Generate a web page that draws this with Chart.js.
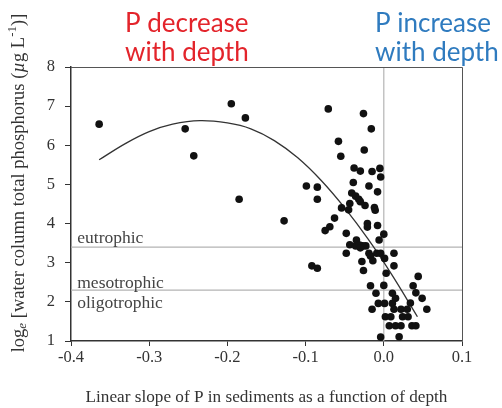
<!DOCTYPE html>
<html><head><meta charset="utf-8">
<script src="https://cdn.jsdelivr.net/npm/chart.js@4"></script>
<style>html,body{margin:0;padding:0;background:#fff}#wrap{width:502px;height:408px}</style>
</head><body><div id="wrap"><canvas id="c" width="502" height="408"></canvas></div>
<script>
// Observed lakes: linear slope of sediment P vs depth, and log_e water-column TP
const slopes = [-0.364,-0.254,-0.243,-0.195,-0.177,-0.185,-0.1275,-0.099,-0.085,-0.085,-0.092,-0.085,
 -0.071,-0.026,-0.016,-0.058,-0.025,-0.055,-0.038,-0.030,-0.015,-0.005,-0.004,-0.039,-0.019,-0.008,
 -0.041,-0.036,-0.032,-0.030,-0.024,-0.0435,-0.054,-0.045,-0.012,-0.011,-0.063,-0.069,-0.075,-0.021,
 -0.021,-0.008,-0.048,0.0,-0.006,-0.035,-0.0435,-0.036,-0.031,-0.027,-0.023,-0.030,-0.048,-0.019,
 -0.017,-0.009,-0.004,0.001,0.013,-0.014,-0.028,-0.026,0.003,0.013,
 -0.017,0.0,-0.010,0.011,0.015,-0.007,0.001,0.011,0.034,-0.015,0.013,0.022,0.030,0.055,
 0.002,0.009,0.024,0.031,0.007,0.015,0.022,0.036,0.041,-0.004,0.0196,0.044,0.0375,0.041,0.049];
const logTP = [6.54,6.42,5.73,7.06,6.70,4.62,4.07,4.96,4.93,4.62,2.92,2.86,
 6.93,6.81,6.42,6.10,5.88,5.72,5.42,5.34,5.33,5.41,5.19,5.05,4.96,4.81,
 4.78,4.70,4.62,4.56,4.46,4.51,4.40,4.35,4.41,4.34,4.14,3.92,3.82,4.00,
 3.91,3.95,3.75,3.73,3.58,3.58,3.46,3.43,3.45,3.43,3.43,3.38,3.24,3.24,
 3.17,3.24,3.24,3.11,3.24,3.05,3.03,2.80,2.73,2.92,
 2.41,2.42,2.22,2.22,2.09,1.96,1.96,1.96,1.97,1.81,1.81,1.81,1.81,1.81,
 1.62,1.62,1.62,1.62,1.39,1.39,1.39,1.39,1.39,1.10,1.11,2.65,2.41,2.23,2.09];
// Fitted curve
const curveX = [-0.364,-0.33,-0.30,-0.27,-0.235,-0.20,-0.17,-0.14,-0.11,-0.08,-0.05,-0.02,0.01,0.043];
const curveY = [5.63,6.05,6.35,6.54,6.63,6.57,6.42,6.12,5.68,5.10,4.40,3.60,2.70,1.62];
// Trophic thresholds
const trophicNames = ['eutrophic','mesotrophic','oligotrophic'];
const trophicLines = [3.40, 2.30];
const trophicLabelY = [3.63, 2.48, 1.95];
const xTicks = [-0.4,-0.3,-0.2,-0.1,0.0,0.1];
const yTicks = [1,2,3,4,5,6,7,8];

const pts = slopes.map((x,i)=>({x, y: logTP[i]}));
const curve = curveX.map((x,i)=>({x, y: curveY[i]}));
const gridCol = '#b4b4b4';
const SERIF = '"Liberation Serif"';

const overlay = {
  id:'overlay',
  afterDraw(chart){
    const {ctx, chartArea:a, scales:{x,y}} = chart;
    ctx.save();
    // frame top/right
    ctx.strokeStyle = '#555'; ctx.lineWidth = 1;
    ctx.beginPath();
    ctx.moveTo(a.left, a.top+0.5); ctx.lineTo(a.right+0.5, a.top+0.5); ctx.lineTo(a.right+0.5, a.bottom);
    ctx.stroke();
    // trophic labels
    ctx.fillStyle = '#444'; ctx.font = '17.5px ' + SERIF;
    ctx.textBaseline = 'middle'; ctx.textAlign = 'left';
    trophicNames.forEach((n,i)=>ctx.fillText(n, x.getPixelForValue(-0.392), y.getPixelForValue(trophicLabelY[i])));
    // x title
    ctx.fillStyle = '#333'; ctx.textAlign = 'center';
    ctx.font = '17.2px ' + SERIF;
    ctx.fillText('Linear slope of P in sediments as a function of depth', (a.left+a.right)/2, 397);
    // y title with sub/superscripts
    const segs = [
      {t:'log', f:'18.5px '+SERIF, dy:0},
      {t:'e', f:'italic 13px '+SERIF, dy:4},
      {t:' [water column total phosphorus (', f:'18.5px '+SERIF, dy:0},
      {t:'\u00b5', f:'italic 18.5px '+SERIF, dy:0},
      {t:'g L', f:'18.5px '+SERIF, dy:0},
      {t:'-1', f:'13px '+SERIF, dy:-6},
      {t:')]', f:'18.5px '+SERIF, dy:0}
    ];
    let total = 0;
    segs.forEach(s=>{ctx.font=s.f; s.w=ctx.measureText(s.t).width; total+=s.w;});
    ctx.translate(19, 183); ctx.rotate(-Math.PI/2);
    ctx.textAlign='left'; ctx.textBaseline='middle';
    let cx = -total/2;
    segs.forEach(s=>{ctx.font=s.f; ctx.fillText(s.t, cx, s.dy); cx+=s.w;});
    ctx.restore();
    // header texts
    ctx.save();
    ctx.font = '26px Lato'; ctx.textAlign='left'; ctx.textBaseline='middle';
    ctx.fillStyle = '#e3242b';
    ctx.fillText('P decrease', 125, 24); ctx.fillText('with depth', 125, 53);
    ctx.fillStyle = '#2f7bbf';
    ctx.fillText('P increase', 375, 24); ctx.fillText('with depth', 375, 53);
    ctx.restore();
  }
};

new Chart(document.getElementById('c'), {
  type:'scatter',
  data:{datasets:[
    {data: trophicLines.flatMap(v=>[{x:-0.4,y:v},{x:0.1,y:v},{x:NaN,y:NaN}]), showLine:true, spanGaps:false,
     borderColor:gridCol, borderWidth:1.2, pointRadius:0, order:3},
    {data:[{x:0,y:1},{x:0,y:8}], showLine:true, borderColor:gridCol, borderWidth:1.2, pointRadius:0, order:3},
    {data:curve, showLine:true, tension:0.4, borderColor:'#333', borderWidth:1.3, pointRadius:0, order:2},
    {data:pts, pointRadius:3.8, pointBackgroundColor:'#111', pointBorderColor:'#111', pointBorderWidth:0, order:1}
  ]},
  options:{
    responsive:false, animation:false, devicePixelRatio:1,
    layout:{padding:{left:0,right:40,top:67,bottom:0}},
    plugins:{legend:{display:false}, tooltip:{enabled:false}},
    scales:{
      x:{type:'linear', min:-0.4, max:0.1,
        afterBuildTicks(s){ s.ticks = xTicks.map(v=>({value:v})); },
        afterFit(s){ s.height = 67; },
        ticks:{color:'#333', font:{family:SERIF, size:16.5}, padding:2,
          callback:v=>v.toFixed(1)},
        grid:{drawOnChartArea:false, drawTicks:true, tickLength:5, color:'#333'},
        border:{color:'#333', width:1.5}
      },
      y:{type:'linear', min:1, max:8,
        afterBuildTicks(s){ s.ticks = yTicks.map(v=>({value:v})); },
        afterFit(s){ s.width = 71; },
        ticks:{color:'#333', font:{family:SERIF, size:16.5}, padding:10},
        grid:{drawOnChartArea:false, drawTicks:true, tickLength:6, color:'#333'},
        border:{color:'#333', width:1.5}
      }
    }
  },
  plugins:[overlay]
});
</script></body></html>
